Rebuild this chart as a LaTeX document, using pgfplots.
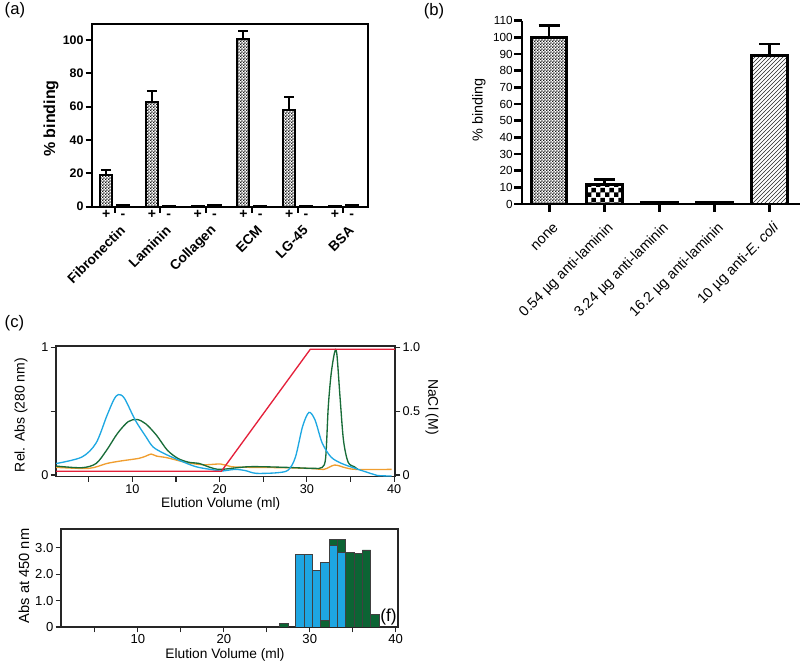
\documentclass[border=0pt]{standalone}
\usepackage{fontspec}
\setmainfont{Liberation Sans}
\usepackage{pgfplots}
\pgfplotsset{compat=1.18}
\usetikzlibrary{patterns}

\definecolor{lblue}{RGB}{30,168,226}
\definecolor{dgreen}{RGB}{24,108,56}
\definecolor{lorange}{RGB}{240,158,48}
\definecolor{lred}{RGB}{228,32,58}
\definecolor{barblue}{RGB}{30,166,226}
\definecolor{bargreen}{RGB}{12,100,52}

% fine and coarse checker fills used by the bar charts
\pgfdeclarepatternformonly{finecheck}{\pgfpointorigin}{\pgfqpoint{2.4pt}{2.4pt}}{\pgfqpoint{2.4pt}{2.4pt}}{%
  \pgfpathrectangle{\pgfpointorigin}{\pgfqpoint{1.2pt}{1.2pt}}%
  \pgfpathrectangle{\pgfqpoint{1.2pt}{1.2pt}}{\pgfqpoint{1.2pt}{1.2pt}}%
  \pgfusepath{fill}}
\pgfdeclarepatternformonly{bigcheck}{\pgfpointorigin}{\pgfqpoint{7pt}{7pt}}{\pgfqpoint{7pt}{7pt}}{%
  \pgfpathrectangle{\pgfpointorigin}{\pgfqpoint{3.5pt}{3.5pt}}%
  \pgfpathrectangle{\pgfqpoint{3.5pt}{3.5pt}}{\pgfqpoint{3.5pt}{3.5pt}}%
  \pgfusepath{fill}}

\newcommand{\fs}[1]{\fontsize{#1}{#1}\selectfont}

\pgfplotsset{
  every axis/.append style={scale only axis, clip mode=individual,
    /pgf/number format/assume math mode=true},
}

\begin{document}
\begin{tikzpicture}
\path[use as bounding box] (0,0) rectangle (600pt,498pt);

% ---------------- (a)
\node[anchor=west, font=\fs{12.5}] at (0pt,490.5pt) {(a)};
\node[rotate=90, font=\bfseries\fs{12}] at (38.25pt,409pt) {\% binding};
\begin{axis}[
  at={(68.8pt,343pt)}, anchor=south west,
  width=207pt, height=137pt,
  xmin=0, xmax=18.1, ymin=0, ymax=109.6,
  axis line style={line width=1.5pt},
  tick style={line width=1.5pt, black},
  tick align=outside, major tick length=4.5pt,
  xtick={1.5,4.5,7.5,10.5,13.5,16.5}, xticklabels={},
  ytick={0,20,40,60,80,100},
  yticklabel style={font=\bfseries\fs{9.3}, inner sep=1.5pt},
  xtick pos=bottom, ytick pos=left,
]
\addplot[ybar, bar shift=0pt, bar width=0.79, draw=black, line width=1.5pt,
  pattern=finecheck, pattern color=black!90]
  coordinates {(0.95,19) (3.95,62.5) (6.95,0.4) (9.95,100.5) (12.95,58) (15.95,0.4)};
\addplot[ybar, bar shift=0pt, bar width=0.79, draw=black, line width=1.5pt, fill=black]
  coordinates {(2.05,1.0) (5.05,0.6) (8.05,1.0) (11.05,0.6) (14.05,0.3) (17.05,0.8)};
\addplot[draw=none, mark=none, forget plot,
  error bars/.cd, y dir=plus, y explicit,
  error bar style={draw=black, line width=1.5pt},
  error mark options={draw=black, line width=1.5pt, mark size=3.75pt, rotate=90}]
  coordinates {(0.95,19) +- (0,3) (3.95,62.5) +- (0,7) (9.95,100.5) +- (0,5) (12.95,58) +- (0,7.5)};
\node[font=\bfseries\fs{10.5}, anchor=base] at (axis cs:0.95,-7) {+};
\node[font=\bfseries\fs{10.5}, anchor=base] at (axis cs:2.05,-7) {-};
\node[font=\bfseries\fs{10.5}, anchor=base] at (axis cs:3.95,-7) {+};
\node[font=\bfseries\fs{10.5}, anchor=base] at (axis cs:5.05,-7) {-};
\node[font=\bfseries\fs{10.5}, anchor=base] at (axis cs:6.95,-7) {+};
\node[font=\bfseries\fs{10.5}, anchor=base] at (axis cs:8.05,-7) {-};
\node[font=\bfseries\fs{10.5}, anchor=base] at (axis cs:9.95,-7) {+};
\node[font=\bfseries\fs{10.5}, anchor=base] at (axis cs:11.05,-7) {-};
\node[font=\bfseries\fs{10.5}, anchor=base] at (axis cs:12.95,-7) {+};
\node[font=\bfseries\fs{10.5}, anchor=base] at (axis cs:14.05,-7) {-};
\node[font=\bfseries\fs{10.5}, anchor=base] at (axis cs:15.95,-7) {+};
\node[font=\bfseries\fs{10.5}, anchor=base] at (axis cs:17.05,-7) {-};
\node[font=\bfseries\fs{10.3}, rotate=45, anchor=east, inner sep=0pt] at (axis cs:2.03,-12.8) {Fibronectin};
\node[font=\bfseries\fs{10.3}, rotate=45, anchor=east, inner sep=0pt] at (axis cs:5.03,-12.8) {Laminin};
\node[font=\bfseries\fs{10.3}, rotate=45, anchor=east, inner sep=0pt] at (axis cs:8.03,-12.8) {Collagen};
\node[font=\bfseries\fs{10.3}, rotate=45, anchor=east, inner sep=0pt] at (axis cs:11.03,-12.8) {ECM};
\node[font=\bfseries\fs{10.3}, rotate=45, anchor=east, inner sep=0pt] at (axis cs:14.03,-12.8) {LG-45};
\node[font=\bfseries\fs{10.3}, rotate=45, anchor=east, inner sep=0pt] at (axis cs:17.03,-12.8) {BSA};
\end{axis}

% ---------------- (b)
\node[font=\fs{12.5}] at (325.5pt,489.75pt) {(b)};
\node[rotate=90, font=\fs{10.8}] at (359.25pt,415.5pt) {\% binding};
\begin{axis}[
  at={(391.5pt,345pt)}, anchor=south west,
  width=208.5pt, height=137.5pt,
  xmin=-0.49, xmax=4.55, ymin=0, ymax=110,
  axis x line*=bottom, axis y line*=left,
  axis line style={line width=2.2pt, -},
  tick style={line width=2.2pt, black},
  tick align=outside, major tick length=6pt,
  xtick={0,1,2,3,4}, xticklabels={},
  ytick={0,10,...,110},
  yticklabel style={font=\fs{8.8}, inner sep=0.8pt},
]
\addplot[ybar, bar shift=0pt, bar width=0.65, draw=black, line width=2.2pt,
  pattern=finecheck, pattern color=black!90] coordinates {(0,100)};
\addplot[ybar, bar shift=0pt, bar width=0.65, draw=black, line width=2.2pt,
  pattern=bigcheck, pattern color=black] coordinates {(1,11.5)};
\addplot[ybar, bar shift=0pt, bar width=0.65, draw=black, line width=2.2pt,
  fill=black] coordinates {(2,1.0) (3,0.8)};
\addplot[ybar, bar shift=0pt, bar width=0.65, draw=black, line width=2.2pt,
  pattern=north east lines, pattern color=black!85] coordinates {(4,89)};
\addplot[draw=none, mark=none, forget plot,
  error bars/.cd, y dir=plus, y explicit,
  error bar style={draw=black, line width=2pt},
  error mark options={draw=black, line width=2pt, mark size=7.9pt, rotate=90}]
  coordinates {(0,100) +- (0,7) (1,11.5) +- (0,3) (4,89) +- (0,7)};
\node[font=\fs{10.8}, rotate=45, anchor=east, inner sep=0pt] at (axis cs:0.13,-13) {none};
\node[font=\fs{10.8}, rotate=45, anchor=east, inner sep=0pt] at (axis cs:1.13,-13) {0.54 µg anti-laminin};
\node[font=\fs{10.8}, rotate=45, anchor=east, inner sep=0pt] at (axis cs:2.13,-13) {3.24 µg anti-laminin};
\node[font=\fs{10.8}, rotate=45, anchor=east, inner sep=0pt] at (axis cs:3.13,-13) {16.2 µg anti-laminin};
\node[font=\fs{10.8}, rotate=45, anchor=east, inner sep=0pt] at (axis cs:4.13,-13) {10 µg anti-\textit{E. coli}};
\end{axis}

% ---------------- (c)
\node[anchor=west, font=\fs{12.5}] at (0pt,255.4pt) {(c)};
\node[rotate=90, font=\fs{10.5}] at (15.75pt,186.75pt) {Rel. Abs (280 nm)};
\node[font=\fs{10.3}] at (165.5pt,120pt) {Elution Volume (ml)};
\node[rotate=-90, font=\fs{10.5}] at (324pt,192.75pt) {NaCl (M)};
\begin{axis}[
  at={(42pt,140.5pt)}, anchor=south west,
  width=254.25pt, height=98pt,
  xmin=1.25, xmax=40.1, ymin=-0.013, ymax=1.01,
  axis line style={line width=0.8pt, black!85},
  tick style={line width=0.8pt, black!85},
  tick align=outside, major tick length=4pt, minor tick length=4pt,
  xtick={10,20,30,40}, minor xtick={5,15,25,35},
  ytick={0,0.5,1}, yticklabels={0,,1},
  xtick pos=bottom, ytick pos=left,
  ticklabel style={font=\fs{9.5}, inner sep=1.5pt},
]
\addplot[lorange, line width=1pt, smooth] coordinates {
  (1.27,0.06) (5.02,0.052) (7.06,0.09) (8.69,0.11) (10.73,0.13) (11.55,0.148)
  (12.16,0.164) (12.78,0.148) (14.0,0.135) (16.04,0.10) (18.08,0.08) (20.12,0.086)
  (21.35,0.065) (23.39,0.06) (27.47,0.057) (30.73,0.05) (31.96,0.044) (33.18,0.078)
  (34.41,0.057) (35.63,0.044) (39.71,0.044)};
\addplot[dgreen, line width=1pt, smooth] coordinates {
  (1.27,0.07) (4.20,0.057) (5.84,0.09) (7.06,0.195) (8.29,0.325) (9.51,0.417)
  (10.53,0.435) (11.55,0.40) (12.78,0.31) (14.0,0.195) (15.22,0.13) (16.45,0.10)
  (17.67,0.09) (18.90,0.06) (20.12,0.044) (23.39,0.065) (27.47,0.06) (30.73,0.052)
  (31.76,0.06) (32.16,0.14) (32.45,0.53) (32.78,0.79) (33.18,0.96) (33.43,0.95)
  (33.80,0.61) (34.20,0.27) (34.73,0.10) (35.43,0.065) (35.84,0.044)};
\addplot[lblue, line width=1pt, smooth] coordinates {
  (1.27,0.09) (4.20,0.14) (5.84,0.25) (7.06,0.46) (7.88,0.59) (8.41,0.63)
  (9.10,0.60) (10.33,0.43) (11.55,0.30) (12.37,0.22) (13.59,0.17) (15.22,0.12)
  (17.27,0.065) (19.31,0.04) (20.12,0.03) (21.76,0.044) (22.98,0.034) (24.20,0.013)
  (26.65,0.018) (27.88,0.04) (28.69,0.14) (29.51,0.38) (30.24,0.49) (30.94,0.43)
  (31.76,0.25) (32.78,0.14) (34.00,0.09) (35.63,0.05) (37.27,0.013) (38.08,-0.004)
  (39.71,-0.008)};
\end{axis}
\begin{axis}[
  at={(42pt,140.5pt)}, anchor=south west,
  width=254.25pt, height=98pt,
  xmin=1.25, xmax=40.1, ymin=-0.013, ymax=1.01,
  hide x axis, axis y line*=right,
  axis line style={line width=0.8pt, black!85, -},
  tick style={line width=0.8pt, black!85},
  tick align=outside, major tick length=4pt,
  ytick={0,0.5,1}, yticklabels={0,0.5,1.0},
  ticklabel style={font=\fs{9.5}, inner sep=1.5pt},
]
\addplot[lred, line width=1pt] coordinates {(1.25,0.029) (20.2,0.029) (30.4,0.985) (40.1,0.985)};
\end{axis}

% ---------------- (f)
\node[rotate=90, font=\fs{11}] at (18pt,66pt) {Abs at 450 nm};
\node[font=\fs{10.3}] at (168.75pt,6.75pt) {Elution Volume (ml)};
\begin{axis}[
  at={(45.75pt,27.75pt)}, anchor=south west,
  width=252.75pt, height=73.5pt,
  xmin=1.05, xmax=40.27, ymin=0, ymax=3.71,
  axis line style={line width=0.8pt, black!85},
  tick style={line width=0.8pt, black!85},
  tick align=outside, major tick length=4pt, minor tick length=4pt,
  xtick={10,20,30,40}, minor xtick={5,15,25,35},
  ytick={0,1,2,3}, yticklabels={0,1.0,2.0,3.0},
  xtick pos=bottom, ytick pos=left,
  ticklabel style={font=\fs{9.8}, inner sep=1.5pt},
]
\addplot[ybar, bar shift=0pt, bar width=0.97, fill=bargreen, draw=black!75, line width=0.5pt]
  coordinates {(27.0,0.13) (32.73,3.33) (33.70,3.33) (34.67,2.83) (35.64,2.80) (36.61,2.92) (37.58,0.47)};
\addplot[ybar, bar shift=0pt, bar width=0.97, fill=barblue, draw=black!75, line width=0.5pt]
  coordinates {(28.86,2.76) (29.83,2.76) (30.80,2.13) (31.77,2.43) (32.73,3.08) (33.70,2.81)};
\addplot[ybar, bar shift=0pt, bar width=0.97, fill=bargreen, draw=black!75, line width=0.5pt]
  coordinates {(31.77,0.25)};
\end{axis}
\node[font=\fs{13}] at (291.4pt,35.25pt) {(f)};
\end{tikzpicture}
\end{document}
